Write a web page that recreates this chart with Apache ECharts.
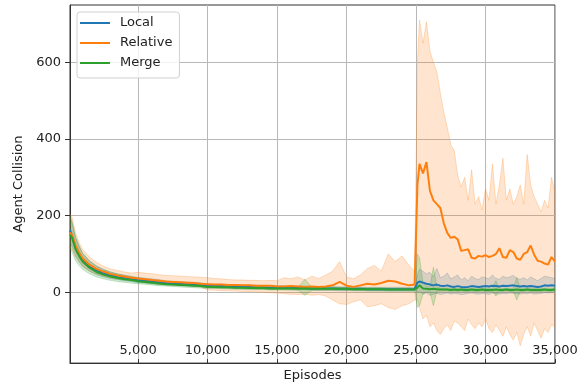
<!DOCTYPE html>
<html>
<head>
<meta charset="utf-8">
<script src="https://cdn.jsdelivr.net/npm/echarts@6/dist/echarts.min.js"></script>
<style>
  html, body { margin: 0; padding: 0; background: #fff; }
  #chart { width: 585px; height: 387px; }
</style>
</head>
<body>
<div id="chart"></div>
<script>
// episodes
const episodes = [100, 250, 500, 750, 1000, 1500, 2000, 2500, 3000, 3500, 4000, 4500,
  5000, 5500, 6000, 6500, 7000, 7500, 8000, 8500, 9000, 9500,
  10000, 10500, 11000, 11500, 12000, 12500, 13000, 13500, 14000, 14500,
  15000, 15500, 16000, 16500, 17000, 17500, 18000, 18500, 19000, 19500,
  20000, 20500, 21000, 21500, 22000, 22500, 23000, 23500, 24000, 24500,
  24900, 25100, 25250, 25500, 25750, 26000, 26250, 26500, 26750, 27000,
  27250, 27500, 27750, 28000, 28250, 28500, 28750, 29000, 29250, 29500,
  29750, 30000, 30250, 30500, 30750, 31000, 31250, 31500, 31750, 32000,
  32250, 32500, 32750, 33000, 33250, 33500, 33750, 34000, 34250, 34500,
  34750, 35000];

const localMean = [162, 148, 118, 100, 85, 68, 57, 50, 44, 40, 37, 35,
  32, 30, 28, 26, 24, 23, 22, 21, 20, 19,
  17, 16, 16, 15, 15, 14, 14, 13, 13, 12,
  12, 12, 11, 11, 11, 10, 10, 10, 10, 9,
  9, 9, 9, 8, 8, 8, 8, 8, 8, 8,
  8, 25, 28, 25, 22, 20, 18, 20, 17, 16,
  18, 15, 14, 16, 14, 13, 14, 16, 15, 14,
  15, 16, 15, 17, 16, 15, 17, 16, 17, 18,
  16, 15, 16, 15, 16, 15, 14, 15, 18, 17,
  18, 17];
const localLo = [130, 120, 95, 80, 68, 55, 46, 40, 36, 33, 30, 28,
  25, 24, 22, 20, 19, 18, 17, 16, 15, 14,
  12, 11, 11, 10, 10, 9, 9, 8, 8, 7,
  7, 7, 6, 6, 6, 5, 5, 5, 5, 4,
  4, 4, 4, 3, 3, 3, 3, 3, 3, 3,
  3, 0, 2, -5, -2, -8, -5, -3, -6, -4,
  -2, -5, -3, -4, -6, -5, -3, -2, -4, -5,
  -3, -4, -6, -2, -4, -5, -3, -4, -2, -3,
  -4, -5, -3, -4, -2, -5, -4, -3, -1, -2,
  -1, -2];
const localHi = [195, 180, 142, 120, 102, 82, 69, 60, 53, 48, 45, 42,
  39, 37, 35, 33, 30, 29, 28, 27, 26, 25,
  22, 21, 21, 20, 20, 19, 19, 18, 18, 17,
  17, 17, 16, 16, 16, 15, 15, 15, 15, 14,
  14, 14, 14, 13, 13, 13, 13, 13, 13, 13,
  13, 45, 60, 55, 48, 52, 40, 62, 38, 42,
  50, 35, 40, 45, 32, 38, 30, 42, 36, 33,
  40, 38, 35, 45, 36, 34, 42, 38, 40, 44,
  36, 34, 38, 32, 40, 35, 30, 36, 42, 40,
  38, 36];

const relMean = [156, 150, 122, 104, 89, 72, 61, 54, 48, 44, 41, 38,
  36, 34, 32, 30, 28, 27, 26, 25, 24, 22,
  21, 20, 20, 19, 19, 18, 18, 17, 17, 17,
  15, 15, 16, 15, 14, 15, 14, 15, 18, 27,
  17, 14, 18, 22, 20, 24, 30, 28, 22, 18,
  20, 280, 335, 310, 340, 265, 240, 230, 220, 180,
  155, 142, 145, 138, 108, 110, 112, 90, 88, 95,
  93, 97, 92, 95, 100, 115, 92, 90, 110, 105,
  88, 85, 100, 105, 122, 98, 82, 80, 75, 72,
  92, 80];
const relLo = [115, 112, 92, 79, 68, 55, 47, 42, 37, 34, 32, 30,
  27, 25, 23, 21, 20, 19, 18, 17, 16, 14,
  6, 5, 4, 4, 3, 2, 2, 1, 0, -1,
  -2, -4, -5, -6, -5, -8, -6, -10, -20, -30,
  -32, -25, -20, -38, -35, -30, -40, -45, -35, -30,
  -20, -20, -40, -70, -60, -90, -80, -100, -110, -95,
  -85, -100, -75, -80, -90, -100, -70, -85, -95, -80,
  -90, -70, -95, -105, -85, -100, -115, -90, -110, -125,
  -105, -140, -110, -90, -115, -80, -100, -120, -95, -105,
  -85, -90];
const relHi = [205, 195, 155, 130, 112, 92, 78, 68, 61, 57, 53, 50,
  52, 50, 48, 46, 44, 43, 42, 41, 40, 39,
  38, 36, 35, 33, 32, 32, 31, 31, 30, 31,
  30, 38, 35, 40, 32, 42, 36, 45, 55, 80,
  40, 35, 45, 62, 70, 55, 100, 80, 95, 70,
  55, 600, 711, 650, 706, 630, 600, 575, 520, 470,
  430, 385, 370, 305, 275, 300, 240, 320, 230, 250,
  215, 270, 240, 335, 230, 280, 350, 240, 270, 230,
  250, 280, 230, 360, 280, 250, 230, 210, 240, 220,
  300, 260];

const mergeMean = [150, 142, 112, 95, 80, 64, 53, 46, 41, 37, 34, 32,
  29, 27, 25, 23, 21, 20, 19, 18, 17, 16,
  14, 14, 13, 13, 12, 12, 11, 11, 11, 10,
  10, 10, 10, 9, 10, 9, 9, 9, 9, 9,
  9, 8, 8, 8, 8, 8, 7, 7, 7, 7,
  7, 12, 18, 10, 9, 8, 9, 8, 7, 7,
  7, 6, 7, 6, 7, 6, 6, 7, 6, 6,
  7, 6, 6, 6, 7, 6, 6, 7, 6, 6,
  7, 6, 6, 7, 6, 6, 6, 6, 7, 6,
  6, 7];
const mergeLo = [112, 105, 82, 70, 60, 48, 40, 35, 31, 28, 26, 24,
  22, 21, 19, 17, 16, 15, 14, 13, 12, 11,
  10, 10, 9, 9, 8, 8, 7, 7, 7, 6,
  6, 6, 6, 5, -8, 5, 5, 5, 5, 5,
  5, 4, 4, 4, 4, 4, 3, 3, 3, 3,
  3, -40, -35, -5, 2, 0, -35, 2, 3, 3,
  3, 2, 3, 2, 3, 2, 2, 3, 2, 2,
  3, 2, 2, 2, -10, 2, 2, 3, 2, 2,
  -20, 2, 2, 3, 2, 2, 2, 2, 3, 2,
  2, 3];
const mergeHi = [200, 185, 145, 122, 102, 82, 68, 59, 53, 48, 44, 41,
  37, 34, 32, 30, 28, 27, 25, 24, 23, 22,
  20, 19, 18, 18, 17, 16, 16, 15, 15, 14,
  14, 14, 14, 13, 34, 13, 13, 13, 13, 13,
  13, 12, 12, 12, 12, 12, 11, 11, 11, 11,
  11, 100, 90, 25, 16, 14, 65, 14, 11, 11,
  11, 10, 11, 10, 11, 10, 10, 11, 10, 10,
  11, 10, 10, 10, 30, 10, 10, 11, 10, 10,
  39, 10, 10, 11, 10, 10, 10, 10, 11, 10,
  10, 11];

const xTicks = [5000, 10000, 15000, 20000, 25000, 30000, 35000];
const yTicks = [0, 200, 400, 600];

const names = ['Local', 'Relative', 'Merge'];
const COLORS = ['#1f77b4', '#ff7f0e', '#2ca02c'];
const FONT = 'DejaVu Sans';

function pairs(ys) {
  return episodes.map((x, i) => [x, ys[i]]);
}

// shaded band between lo and hi, drawn as one polygon in axis coordinates
function band(key, lo, hi, color) {
  return {
    type: 'custom', name: key + ' band', silent: true, z: 1,
    data: episodes.map((x, i) => [x, lo[i], hi[i]]),
    encode: { x: 0, y: [1, 2] },
    clip: true,
    renderItem: (params, api) => {
      if (params.dataIndex !== 0) return null;
      const top = episodes.map((x, i) => api.coord([x, hi[i]]));
      const bottom = episodes.map((x, i) => api.coord([x, lo[i]]));
      const edge = { stroke: color, fill: null, opacity: 0.25, lineWidth: 1 };
      return {
        type: 'group',
        children: [
          { type: 'polygon', shape: { points: top.concat(bottom.slice().reverse()) },
            style: { fill: color, opacity: 0.2 } },
          { type: 'polyline', shape: { points: top }, style: edge },
          { type: 'polyline', shape: { points: bottom }, style: edge }
        ]
      };
    }
  };
}

function meanLine(name, ys, color) {
  return {
    type: 'line', name: name, data: pairs(ys), symbol: 'none', z: 3,
    itemStyle: { color: color },
    lineStyle: { color: color, width: 2 }
  };
}

const series = [
  band('Local', localLo, localHi, COLORS[0]),
  band('Relative', relLo, relHi, COLORS[1]),
  band('Merge', mergeLo, mergeHi, COLORS[2]),
  meanLine('Local', localMean, COLORS[0]),
  meanLine('Relative', relMean, COLORS[1]),
  meanLine('Merge', mergeMean, COLORS[2])
];

const chart = echarts.init(document.getElementById('chart'));
chart.setOption({
  animation: false,
  backgroundColor: '#fff',
  textStyle: { fontFamily: FONT },
  grid: {
    left: 70, right: 30, top: 5, bottom: 21,
    show: true, borderColor: '#333', borderWidth: 1, backgroundColor: 'transparent'
  },
  legend: {
    orient: 'vertical', left: 77, top: 12,
    data: names, icon: 'rect', itemWidth: 30, itemHeight: 2, itemGap: 6,
    padding: [4, 7, 8, 3],
    backgroundColor: 'rgba(255,255,255,0.8)',
    borderColor: '#d0d0d0', borderWidth: 1, borderRadius: 3,
    textStyle: { fontFamily: FONT, fontSize: 13, color: '#222', lineHeight: 14, padding: [0, 0, 0, 5] }
  },
  xAxis: {
    type: 'value', min: 100, max: 35000,
    name: 'Episodes', nameLocation: 'middle', nameGap: 4,
    nameTextStyle: { fontFamily: FONT, fontSize: 13, color: '#222', verticalAlign: 'top' },
    axisLine: { show: true, onZero: false, lineStyle: { color: '#333', width: 1 } },
    axisTick: { show: true, inside: true, length: 4, customValues: xTicks, lineStyle: { color: '#333' } },
    axisLabel: {
      inside: true, margin: 6, customValues: xTicks,
      fontFamily: FONT, fontSize: 13, color: '#222',
      formatter: v => v.toLocaleString('en-US')
    },
    splitLine: { show: true, lineStyle: { color: '#b8b8b8', width: 1 } }
  },
  yAxis: {
    type: 'value', min: -185, max: 750,
    name: 'Agent Collision', nameLocation: 'middle', nameGap: 44, nameRotate: 90,
    nameTextStyle: { fontFamily: FONT, fontSize: 13, color: '#222' },
    axisLine: { show: true, onZero: false, lineStyle: { color: '#333', width: 1 } },
    axisTick: { show: true, length: 5, customValues: yTicks, lineStyle: { color: '#333' } },
    axisLabel: { margin: 9, customValues: yTicks, fontFamily: FONT, fontSize: 13, color: '#222' },
    splitLine: { show: true, lineStyle: { color: '#b8b8b8', width: 1 } }
  },
  series: series
});
</script>
</body>
</html>
